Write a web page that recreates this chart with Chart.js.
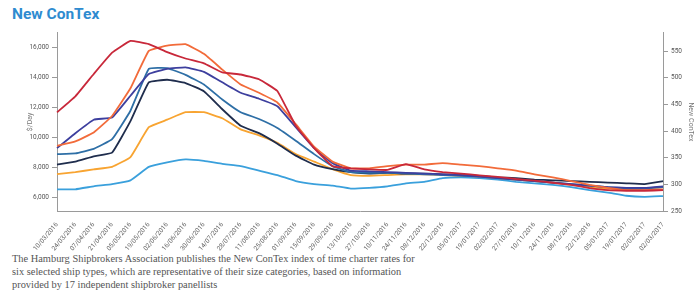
<!DOCTYPE html>
<html>
<head>
<meta charset="utf-8">
<script src="https://cdn.jsdelivr.net/npm/chart.js@4"></script>
<style>
  body { margin: 0; background: #fff; width: 699px; height: 293px; overflow: hidden; position: relative; }
  #title { position: absolute; left: 12px; top: 5px; font: bold 15.5px Roboto, sans-serif; color: #2e8bd0; }
  #wrap { position: absolute; left: 0; top: 26px; }
  #note { position: absolute; left: 12px; top: 252px; font: 10.4px "Liberation Serif", serif; color: #555; line-height: 13px; }
</style>
</head>
<body>
<div id="title">New ConTex</div>
<div id="wrap"><canvas id="contex" width="699" height="226"></canvas></div>
<div id="note">The Hamburg Shipbrokers Association publishes the New ConTex index of time charter rates for<br>six selected ship types, which are representative of their size categories, based on information<br>provided by 17 independent shipbroker panellists</div>
<script>
// tick labels as printed under the chart
const dates = ["10/03/2016", "24/03/2016", "07/04/2016", "21/04/2016", "05/05/2016", "19/05/2016",
    "02/06/2016", "16/06/2016", "30/06/2016", "14/07/2016", "28/07/2016", "11/08/2016", "25/08/2016",
    "01/09/2016", "15/09/2016", "29/09/2016", "13/10/2016", "27/10/2016", "10/11/2016", "24/11/2016",
    "08/12/2016", "22/12/2016", "05/01/2017", "19/01/2017", "02/02/2017", "27/10/2016", "10/11/2016",
    "24/11/2016", "08/12/2016", "22/12/2016", "05/01/2017", "19/01/2017", "02/02/2017", "02/03/2017"];
const dayTicks = [6000, 8000, 10000, 12000, 14000, 16000];
const indexTicks = [250, 300, 350, 400, 450, 500, 550];

// New ConTex index (right axis)
const contex = [435, 465, 507, 547, 569, 563, 548, 536, 527, 510, 506, 497, 475, 410, 368, 334, 330,
    328, 327, 338, 328, 323, 320, 317, 314, 310, 307, 303, 299, 293, 289, 288, 288, 289];

// $/day (left axis)
const tomato = [9450, 9750, 10350, 11450, 13300, 15800, 16150, 16250, 15600, 14550, 13550, 13000, 12350,
    10900, 9400, 8400, 7950, 7950, 8100, 8200, 8200, 8300, 8200, 8100, 7950, 7800, 7550, 7350, 7100,
    6850, 6650, 6500, 6500, 6550];
const indigo = [9300, 10300, 11200, 11350, 12800, 14250, 14600, 14700, 14400, 13700, 13000, 12600, 12100,
    10700, 9300, 8300, 7800, 7750, 7700, 7650, 7600, 7550, 7500, 7400, 7300, 7200, 7100, 7000, 6900,
    6800, 6700, 6650, 6650, 6750];
const steel = [8900, 8950, 9250, 9900, 11800, 14600, 14650, 14200, 13550, 12550, 11700, 11250, 10650,
    9800, 8900, 8100, 7700, 7650, 7650, 7600, 7550, 7500, 7450, 7400, 7300, 7200, 7100, 7000, 6900,
    6800, 6700, 6600, 6600, 6700];
const navy = [8200, 8400, 8750, 9000, 11100, 13700, 13870, 13650, 13100, 11900, 10800, 10300, 9600,
    8800, 8200, 7900, 7700, 7600, 7650, 7600, 7600, 7550, 7500, 7450, 7350, 7300, 7200, 7150, 7100,
    7050, 7000, 6950, 6900, 7100];
const orange = [7560, 7700, 7880, 8050, 8700, 10700, 11200, 11700, 11700, 11300, 10550, 10150, 9650,
    8900, 8400, 7900, 7500, 7450, 7500, 7550, 7550, 7500, 7450, 7400, 7300, 7200, 7100, 7000, 6850,
    6700, 6600, 6550, 6600, 6700];
const lightblue = [6550, 6550, 6750, 6900, 7150, 8050, 8350, 8550, 8450, 8250, 8100, 7800, 7500,
    7100, 6900, 6800, 6600, 6650, 6750, 6950, 7050, 7300, 7350, 7300, 7200, 7050, 6950, 6850, 6700,
    6500, 6330, 6120, 6050, 6100];

function line(data, color, axis) {
    return {
        data: data,
        borderColor: color,
        backgroundColor: color,
        borderWidth: 1.8,
        pointRadius: 0,
        tension: 0.1,
        yAxisID: axis || 'y'
    };
}

const tickFont = { family: 'Roboto', size: 6.5 };
const gray = '#9a9a9a';

new Chart(document.getElementById("contex"), {
    type: 'line',
    data: {
        labels: dates,
        datasets: [
            line(contex, '#c8283a', 'y1'),
            line(tomato, '#f26b3a'),
            line(indigo, '#3d3f9e'),
            line(steel, '#2e6fa6'),
            line(navy, '#1f2d4d'),
            line(orange, '#f8a431'),
            line(lightblue, '#3aa0dc')
        ]
    },
    options: {
        responsive: false,
        animation: false,
        layout: { padding: { left: 22, top: 6, right: 0, bottom: 0 } },
        plugins: { legend: { display: false }, tooltip: { enabled: false } },
        scales: {
            x: {
                grid: { display: false },
                border: { display: true, color: gray },
                ticks: { font: tickFont, color: '#666', autoSkip: false, minRotation: 50, maxRotation: 50, padding: 2 },
                afterFit: s => { s.height = 41; }
            },
            y: {
                position: 'left',
                min: 5100,
                max: 17000,
                grid: { drawOnChartArea: false, tickLength: 5, color: gray },
                border: { color: gray },
                ticks: { font: tickFont, color: '#555', padding: 3, callback: v => v.toLocaleString('en-US') },
                afterBuildTicks: s => { s.ticks = dayTicks.map(v => ({ value: v })); },
                title: { display: true, text: '$/Day', font: { family: 'Roboto', size: 7 }, color: '#777' },
                afterFit: s => { s.width = 35; }
            },
            y1: {
                position: 'right',
                min: 250,
                max: 584,
                grid: { drawOnChartArea: false, tickLength: 5, color: gray },
                border: { color: gray },
                ticks: { font: tickFont, color: '#555', padding: 3 },
                afterBuildTicks: s => { s.ticks = indexTicks.map(v => ({ value: v })); },
                title: { display: true, text: 'New ConTex', font: { family: 'Roboto', size: 7 }, color: '#777' },
                afterFit: s => { s.width = 36; }
            }
        }
    }
});
</script>
</body>
</html>
